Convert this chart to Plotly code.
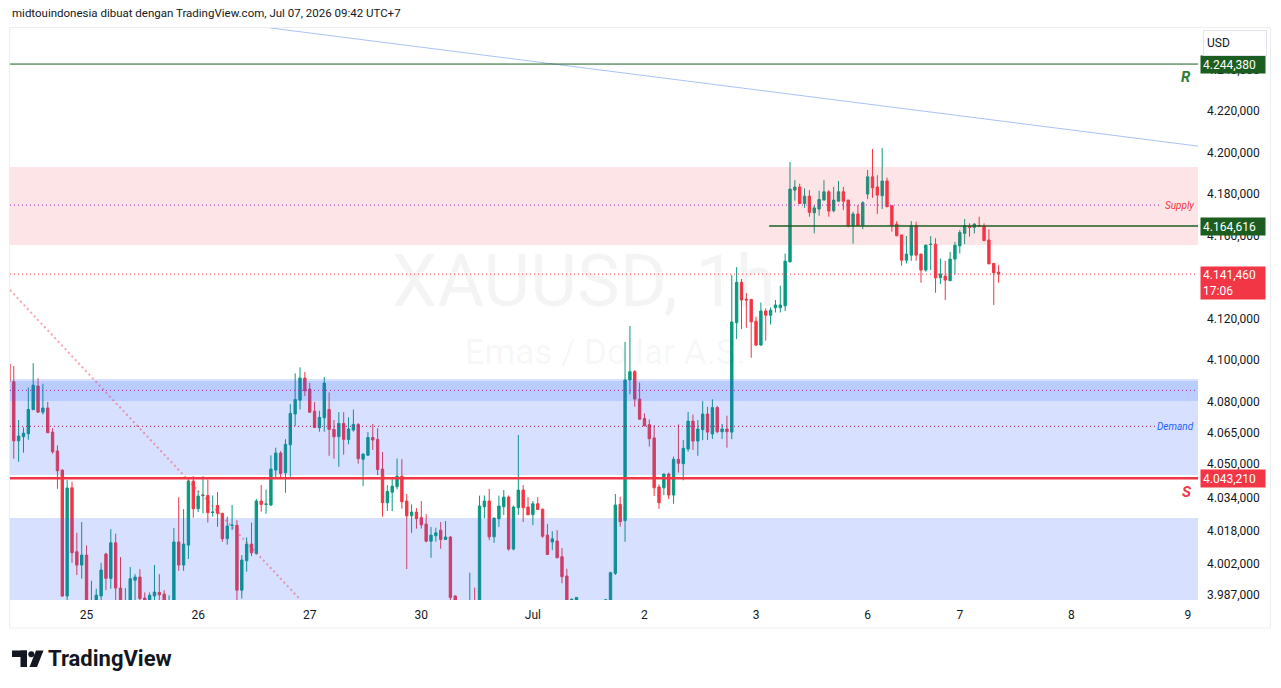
import plotly.graph_objects as go

# ---------------- data (XAUUSD 1h) ----------------
bar_index = list(range(-1, 204))

opens = [4098.2,
 4089.7, 4061.2, 4063.2, 4064.6, 4076.2, 4087.6, 4075.0, 4077.0, 4065.4, 4056.3,
 4047.1, 3986.5, 4038.6, 4007.8, 4001.4, 4006.2, 3978.0, 3980.0, 3986.5, 4006.7,
 3995.0, 4012.1, 3990.3, 3978.0, 3982.0, 3994.1, 3995.6, 3985.5, 3983.5, 3986.5,
 3988.2, 3987.4, 3981.0, 3983.5, 4012.5, 4001.4, 4011.0, 4041.8, 4028.5, 4034.8,
 4034.9, 4026.7, 4030.1, 4026.3, 4014.1, 4020.4, 4020.5, 3989.3, 4003.5, 4011.5,
 4007.0, 4032.2, 4030.6, 4030.3, 4047.1, 4055.3, 4045.8, 4059.3, 4074.1, 4080.8,
 4091.4, 4086.1, 4075.5, 4067.5, 4072.3, 4076.3, 4066.7, 4063.2, 4069.6, 4061.9,
 4066.4, 4069.1, 4052.3, 4054.3, 4062.8, 4061.9, 4047.6, 4031.4, 4036.5, 4039.1,
 4044.2, 4032.2, 4025.1, 4026.9, 4024.2, 4021.1, 4012.9, 4015.5, 4018.2, 4013.7,
 4014.9, 3986.5, 3980.0, 3974.0, 3976.0, 3980.0, 3975.0, 4029.5, 4032.2, 4015.0,
 4023.7, 4029.5, 4034.1, 4009.1, 4029.0, 4037.5, 4029.3, 4025.6, 4030.9, 4028.3,
 4015.8, 4012.5, 4013.0, 4005.4, 3996.1, 3981.0, 3981.0, 3984.0, 3978.0, 3974.0,
 3977.0, 3979.0, 3981.0, 3984.5, 3997.4, 4030.6, 4022.8, 4090.5, 4094.5, 4081.3,
 4071.9, 4069.0, 4062.6, 4039.0, 4038.6, 4045.2, 4035.1, 4052.3, 4050.2, 4057.3,
 4070.7, 4061.1, 4066.6, 4074.1, 4064.5, 4077.2, 4065.6, 4066.9, 4065.4, 4118.1,
 4137.5, 4129.3, 4129.3, 4118.8, 4107.3, 4123.7, 4121.7, 4125.3, 4125.3, 4126.2,
 4147.4, 4181.9, 4183.4, 4175.5, 4179.0, 4171.0, 4172.8, 4177.1, 4181.1, 4172.0,
 4176.6, 4181.1, 4177.1, 4164.6, 4170.4, 4164.9, 4180.0, 4188.3, 4183.4, 4179.2,
 4186.3, 4174.4, 4165.6, 4160.3, 4148.2, 4150.6, 4164.9, 4151.1, 4143.4, 4155.7,
 4155.9, 4139.7, 4140.5, 4138.3, 4148.7, 4155.1, 4161.1, 4164.6, 4164.0, 4164.8,
 4164.6, 4157.9, 4146.6, 4142.4]

highs = [4099.5,
 4097.2, 4071.2, 4067.7, 4086.9, 4098.6, 4091.3, 4088.7, 4079.9, 4067.3, 4059.0,
 4047.4, 4042.3, 4041.5, 4016.9, 4022.1, 4010.9, 3993.8, 3990.0, 4002.5, 4007.3,
 4018.7, 4016.5, 4005.2, 3990.3, 4000.4, 3997.0, 3999.4, 3988.2, 3988.2, 4001.4,
 3997.0, 3989.3, 3986.8, 4019.2, 4034.1, 4028.3, 4042.6, 4044.2, 4037.2, 4044.2,
 4042.6, 4034.9, 4036.5, 4026.5, 4024.7, 4030.3, 4023.0, 4006.2, 4014.7, 4021.8,
 4033.2, 4039.9, 4037.8, 4054.2, 4057.9, 4056.3, 4062.0, 4078.9, 4093.7, 4096.6,
 4094.3, 4089.0, 4079.9, 4075.7, 4091.9, 4084.5, 4071.2, 4075.0, 4075.0, 4072.5,
 4076.3, 4069.7, 4055.2, 4065.4, 4069.3, 4067.3, 4055.8, 4039.9, 4042.8, 4052.7,
 4052.4, 4035.6, 4030.6, 4028.8, 4032.2, 4025.9, 4019.7, 4019.4, 4022.1, 4022.6,
 4015.3, 3986.8, 3983.0, 3980.0, 3997.7, 3990.5, 4034.8, 4034.9, 4038.0, 4024.2,
 4034.8, 4037.5, 4034.9, 4030.0, 4064.0, 4039.9, 4034.1, 4032.2, 4034.1, 4028.6,
 4021.1, 4017.7, 4018.2, 4009.6, 3999.6, 3985.4, 3986.0, 3984.3, 3982.0, 3980.0,
 3982.0, 3984.0, 3985.0, 3998.2, 4035.6, 4034.3, 4108.8, 4116.5, 4095.3, 4089.2,
 4074.4, 4071.5, 4068.7, 4040.2, 4045.5, 4045.9, 4053.6, 4069.1, 4061.6, 4075.1,
 4073.9, 4071.2, 4080.3, 4077.6, 4081.2, 4078.0, 4069.3, 4073.3, 4141.0, 4144.8,
 4139.1, 4132.3, 4129.5, 4120.9, 4127.8, 4125.0, 4125.4, 4129.0, 4135.9, 4151.4,
 4195.4, 4186.7, 4185.0, 4182.7, 4181.9, 4174.7, 4181.6, 4186.7, 4181.9, 4183.5,
 4186.3, 4183.5, 4177.3, 4171.5, 4174.7, 4176.6, 4191.6, 4201.7, 4189.1, 4202.1,
 4187.9, 4174.6, 4167.0, 4160.5, 4159.8, 4167.0, 4166.7, 4151.3, 4155.8, 4159.8,
 4158.7, 4149.0, 4147.9, 4152.2, 4157.0, 4162.7, 4168.0, 4165.9, 4165.8, 4169.1,
 4165.9, 4163.0, 4146.8, 4145.8]

lows = [4088.5,
 4052.6, 4051.1, 4055.5, 4061.7, 4076.0, 4074.7, 4073.9, 4065.0, 4055.0, 4038.1,
 3986.0, 3983.0, 4002.5, 3996.6, 3994.8, 3982.0, 3975.0, 3976.0, 3982.0, 3989.3,
 3990.0, 3982.0, 3978.0, 3975.0, 3978.0, 3982.0, 3983.0, 3982.0, 3982.0, 3983.0,
 3983.0, 3981.0, 3979.0, 3981.0, 3998.6, 3998.6, 4004.3, 4024.2, 4026.9, 4026.3,
 4021.9, 4024.7, 4019.8, 4012.6, 4011.2, 4018.2, 3983.0, 3985.3, 3998.2, 4005.7,
 4006.4, 4027.1, 4026.1, 4029.8, 4043.4, 4043.4, 4036.2, 4043.9, 4068.3, 4076.3,
 4082.8, 4074.6, 4067.5, 4065.6, 4065.6, 4054.0, 4052.6, 4048.7, 4054.5, 4059.5,
 4065.6, 4050.2, 4039.4, 4053.9, 4056.8, 4044.6, 4024.7, 4027.4, 4027.4, 4037.8,
 4028.5, 3999.5, 4016.9, 4018.9, 4019.0, 4012.3, 4004.9, 4012.6, 4009.2, 4013.7,
 3983.0, 3978.0, 3970.0, 3968.0, 3972.0, 3970.0, 3972.0, 4023.9, 4013.4, 4012.1,
 4019.8, 4025.5, 4008.3, 4008.5, 4025.5, 4022.1, 4025.4, 4020.6, 4028.0, 4014.5,
 4006.2, 4008.6, 4004.7, 3992.6, 3979.0, 3978.0, 3978.0, 3974.0, 3970.0, 3968.0,
 3972.0, 3974.0, 3976.0, 3980.0, 3996.6, 4019.9, 4012.6, 4083.7, 4077.6, 4071.5,
 4068.3, 4058.4, 4034.6, 4028.5, 4035.1, 4033.2, 4030.9, 4045.9, 4042.2, 4056.0,
 4056.8, 4054.0, 4061.5, 4061.6, 4062.1, 4064.8, 4062.1, 4057.9, 4062.0, 4110.2,
 4115.0, 4115.6, 4101.2, 4106.8, 4107.0, 4109.4, 4117.2, 4123.0, 4123.0, 4123.7,
 4147.0, 4176.8, 4175.3, 4173.4, 4169.1, 4161.1, 4169.6, 4177.0, 4169.1, 4171.2,
 4176.5, 4172.3, 4164.0, 4156.1, 4164.8, 4163.1, 4177.6, 4178.2, 4170.4, 4172.8,
 4173.8, 4161.9, 4159.8, 4145.5, 4146.6, 4147.9, 4147.9, 4137.3, 4142.6, 4143.4,
 4132.5, 4136.7, 4129.0, 4138.1, 4141.3, 4151.4, 4155.9, 4159.5, 4161.1, 4164.4,
 4157.5, 4146.3, 4126.6, 4137.3]

closes = [4089.7,
 4061.2, 4063.5, 4064.9, 4076.3, 4088.0, 4075.0, 4077.0, 4065.1, 4055.9, 4046.8,
 3986.5, 4038.5, 4007.3, 4001.4, 4006.2, 3984.0, 3983.0, 3986.9, 3999.0, 3995.0,
 4012.1, 3990.3, 3982.0, 3982.0, 3994.8, 3995.6, 3985.3, 3984.0, 3986.8, 3988.4,
 3987.1, 3983.5, 3983.5, 4012.5, 4001.4, 4011.5, 4041.8, 4028.5, 4034.6, 4035.0,
 4026.6, 4026.9, 4026.3, 4014.1, 4020.2, 4020.6, 3989.3, 4003.8, 4011.5, 4007.3,
 4032.2, 4030.6, 4030.8, 4047.6, 4055.3, 4045.5, 4059.5, 4074.4, 4081.1, 4091.4,
 4085.3, 4075.0, 4067.6, 4072.5, 4089.0, 4066.7, 4063.2, 4069.6, 4061.9, 4066.9,
 4069.1, 4052.6, 4054.8, 4062.8, 4061.6, 4047.4, 4031.4, 4036.8, 4039.4, 4044.2,
 4031.9, 4025.1, 4026.9, 4023.7, 4020.8, 4012.9, 4015.8, 4016.9, 4013.7, 4014.9,
 3985.8, 3980.0, 3974.0, 3976.0, 3980.0, 3975.0, 4029.8, 4032.2, 4015.0, 4024.0,
 4029.8, 4034.1, 4009.1, 4029.3, 4037.5, 4029.0, 4025.6, 4030.9, 4028.2, 4015.3,
 4006.5, 4014.0, 4004.9, 3995.8, 3982.0, 3984.9, 3985.8, 3978.0, 3974.0, 3977.0,
 3979.0, 3981.0, 3984.7, 3997.7, 4030.3, 4022.3, 4090.5, 4094.5, 4081.3, 4071.6,
 4068.4, 4062.2, 4038.6, 4031.4, 4045.2, 4035.1, 4052.3, 4050.4, 4057.6, 4070.7,
 4061.1, 4066.9, 4074.1, 4065.4, 4077.2, 4065.6, 4066.9, 4065.6, 4118.4, 4137.5,
 4129.0, 4129.0, 4118.5, 4107.3, 4123.7, 4121.7, 4124.1, 4126.6, 4126.6, 4147.7,
 4182.4, 4183.4, 4175.5, 4179.0, 4171.2, 4173.3, 4177.4, 4181.1, 4171.8, 4177.1,
 4181.1, 4176.6, 4164.6, 4170.4, 4164.9, 4175.8, 4188.3, 4183.0, 4179.5, 4186.3,
 4173.9, 4164.9, 4159.9, 4148.2, 4151.1, 4164.9, 4150.6, 4143.4, 4155.4, 4155.8,
 4139.7, 4141.5, 4138.6, 4148.7, 4155.4, 4161.5, 4164.9, 4164.0, 4165.6, 4164.6,
 4157.6, 4146.4, 4142.1, 4141.46]

# time axis labels (bar index where each day starts)
day_ticks = [15, 38, 61, 84, 107, 130, 153, 176, 195, 218, 242]
day_labels = ["25", "26", "27", "30", "Jul", "2", "3", "6", "7", "8", "9"]

# price axis labels
price_ticks = [4240, 4220, 4200, 4180, 4160, 4120, 4100, 4080, 4065, 4050, 4034, 4018, 4002, 3987]
price_labels = ["4.240,000", "4.220,000", "4.200,000", "4.180,000", "4.160,000", "4.120,000",
                "4.100,000", "4.080,000", "4.065,000", "4.050,000", "4.034,000", "4.018,000",
                "4.002,000", "3.987,000"]

# drawn levels
resistance = 4242.6            # where the R line sits on the price scale
resistance_text = "4.244,380"
support = 4043.21
last_price = 4141.46
green_level = 4164.616
green_level_start = 155.7
supply_zone = (4155.5, 4193.0)
supply_mid = 4174.7
demand_zone = (4044.75, 4090.97)
demand_inner = (4080.4, 4090.0)
demand_mid_upper = 4085.5
demand_mid_lower = 4068.2
lower_zone = (3960.0, 4024.0)
trend_blue = ((52.8, 4260.0), (244.1, 4203.1))
trend_red = ((-0.78, 4133.8), (60.0, 3982.4))

X_RANGE = [-0.78, 244.1]
Y_RANGE = [3984.57, 4259.96]

# ---------------- figure ----------------
W, H = 1281, 688
ML, MR, MT, MB = 10, 83, 28, 88
PW, PH = W - ML - MR, H - MT - MB


def pxx(px):
    return (px - ML) / PW


def pxy(py):
    return (H - MB - py) / PH


UP, DOWN = "#089981", "#f23645"
TXT = "#131722"
FONT = "Roboto"

fig = go.Figure()

# watermark (below candles)
fig.add_trace(go.Scatter(x=[117.5], y=[4134.8], mode="text", text=["XAUUSD, 1h"],
                         textfont=dict(family=FONT, size=72, color="rgba(0,0,0,0.045)"),
                         hoverinfo="skip", showlegend=False))
fig.add_trace(go.Scatter(x=[121.9], y=[4102.5], mode="text", text=["Emas / Dollar A.S."],
                         textfont=dict(family=FONT, size=35, color="rgba(0,0,0,0.045)"),
                         hoverinfo="skip", showlegend=False))

fig.add_trace(go.Candlestick(
    x=bar_index, open=opens, high=highs, low=lows, close=closes,
    increasing=dict(line=dict(color=UP, width=1), fillcolor=UP),
    decreasing=dict(line=dict(color=DOWN, width=1), fillcolor=DOWN),
    whiskerwidth=0, hoverinfo="skip", showlegend=False))

shapes = []
# zones (drawn above candles, translucent)
shapes.append(dict(type="rect", xref="paper", yref="y", x0=0, x1=1, y0=supply_zone[0], y1=supply_zone[1],
                   fillcolor="rgba(242,54,69,0.13)", line=dict(width=0), layer="above"))
shapes.append(dict(type="rect", xref="paper", yref="y", x0=0, x1=1, y0=demand_zone[0], y1=demand_zone[1],
                   fillcolor="rgba(41,98,255,0.19)", line=dict(width=0), layer="above"))
shapes.append(dict(type="rect", xref="paper", yref="y", x0=0, x1=1, y0=demand_inner[0], y1=demand_inner[1],
                   fillcolor="rgba(41,98,255,0.16)", line=dict(width=0), layer="above"))
shapes.append(dict(type="rect", xref="paper", yref="y", x0=0, x1=1, y0=lower_zone[0], y1=lower_zone[1],
                   fillcolor="rgba(41,98,255,0.19)", line=dict(width=0), layer="above"))

# dotted mid lines
shapes.append(dict(type="line", xref="paper", yref="y", x0=0, x1=pxx(1160), y0=supply_mid, y1=supply_mid,
                   line=dict(color="#9c27b0", width=1, dash="1px,3px"), layer="above"))
shapes.append(dict(type="line", xref="paper", yref="y", x0=0, x1=1, y0=demand_mid_upper, y1=demand_mid_upper,
                   line=dict(color="#9c27b0", width=1, dash="1px,3px"), layer="above"))
shapes.append(dict(type="line", xref="paper", yref="y", x0=0, x1=pxx(1156), y0=demand_mid_lower,
                   y1=demand_mid_lower, line=dict(color="#a0144c", width=1, dash="1px,3px"), layer="above"))
shapes.append(dict(type="line", xref="paper", yref="y", x0=0, x1=1, y0=last_price, y1=last_price,
                   line=dict(color=DOWN, width=1, dash="1px,3px"), layer="above"))

# trend lines
shapes.append(dict(type="line", xref="x", yref="y", x0=trend_blue[0][0], y0=trend_blue[0][1],
                   x1=trend_blue[1][0], y1=trend_blue[1][1], line=dict(color="#aac2f7", width=1), layer="above"))
shapes.append(dict(type="line", xref="x", yref="y", x0=trend_red[0][0], y0=trend_red[0][1],
                   x1=trend_red[1][0], y1=trend_red[1][1],
                   line=dict(color="rgba(242,54,69,0.45)", width=2, dash="2px,3px"), layer="above"))

# horizontal levels
shapes.append(dict(type="line", xref="paper", yref="y", x0=0, x1=1, y0=resistance, y1=resistance,
                   line=dict(color="#1b5e20", width=1), layer="above"))
shapes.append(dict(type="line", xref="x", yref="y", x0=green_level_start, x1=X_RANGE[1], y0=green_level,
                   y1=green_level, line=dict(color="#1b5e20", width=1.5), layer="above"))
shapes.append(dict(type="line", xref="paper", yref="y", x0=0, x1=1, y0=support, y1=support,
                   line=dict(color=DOWN, width=2.5), layer="above"))

# chart frame
shapes.append(dict(type="rect", xref="paper", yref="paper", x0=pxx(9.5), x1=pxx(1270.5), y0=pxy(628),
                   y1=pxy(27.5), line=dict(color="#eceef2", width=1), fillcolor="rgba(0,0,0,0)", layer="below"))

# TradingView logo
shapes.append(dict(type="rect", xref="paper", yref="paper", x0=pxx(12), x1=pxx(27), y0=pxy(657), y1=pxy(650.5),
                   fillcolor=TXT, line=dict(width=0)))
shapes.append(dict(type="rect", xref="paper", yref="paper", x0=pxx(20.5), x1=pxx(27), y0=pxy(667), y1=pxy(650.5),
                   fillcolor=TXT, line=dict(width=0)))
shapes.append(dict(type="circle", xref="paper", yref="paper", x0=pxx(28.3), x1=pxx(34.3), y0=pxy(657.3),
                   y1=pxy(651.3), fillcolor=TXT, line=dict(width=0)))
lp = [(36, 650.5), (43.5, 650.5), (37, 667), (29.5, 667)]
path = "M " + " L ".join(f"{pxx(a)},{pxy(b)}" for a, b in lp) + " Z"
shapes.append(dict(type="path", xref="paper", yref="paper", path=path, fillcolor=TXT, line=dict(width=0)))

annotations = []
annotations.append(dict(xref="paper", yref="paper", x=pxx(10), y=pxy(13), xanchor="left", yanchor="middle",
                        text="midtouindonesia dibuat dengan TradingView.com, Jul 07, 2026 09:42 UTC+7",
                        showarrow=False, font=dict(family=FONT, size=11.5, color=TXT)))
annotations.append(dict(xref="paper", yref="paper", x=pxx(46), y=pxy(658), xanchor="left", yanchor="middle",
                        text="<b>TradingView</b>", showarrow=False, font=dict(family=FONT, size=22, color=TXT)))

# zone / level labels
annotations.append(dict(xref="paper", yref="y", x=pxx(1196), y=supply_mid, xanchor="right", yanchor="middle",
                        text="<i>Supply</i>", showarrow=False, font=dict(family=FONT, size=10, color=DOWN)))
annotations.append(dict(xref="paper", yref="y", x=pxx(1196), y=demand_mid_lower, xanchor="right",
                        yanchor="middle", text="<i>Demand</i>", showarrow=False,
                        font=dict(family=FONT, size=10, color="#2962ff")))
annotations.append(dict(xref="paper", yref="y", x=pxx(1186), y=resistance, yshift=-13, xanchor="center",
                        yanchor="middle", text="<b><i>R</i></b>", showarrow=False,
                        font=dict(family=FONT, size=15, color="#2e7d32")))
annotations.append(dict(xref="paper", yref="y", x=pxx(1187), y=support, yshift=-14, xanchor="center",
                        yanchor="middle", text="<b><i>S</i></b>", showarrow=False,
                        font=dict(family=FONT, size=15, color=DOWN)))

# price-axis boxes
price_boxes = [(resistance, resistance_text, "#1b5e20"), (green_level, "4.164,616", "#1b5e20"),
               (support, "4.043,210", DOWN)]
for val, txt, col in price_boxes:
    annotations.append(dict(xref="paper", yref="y", x=pxx(1200), y=val, xanchor="left", yanchor="middle",
                            text=txt, showarrow=False, bgcolor=col, borderpad=2, width=60, height=13,
                            align="left", font=dict(family=FONT, size=12, color="white")))
annotations.append(dict(xref="paper", yref="y", x=pxx(1200), y=last_price, yshift=8, xanchor="left",
                        yanchor="top", text="4.141,460<br>17:06", showarrow=False, bgcolor=DOWN, borderpad=2,
                        width=60, height=28, align="left", font=dict(family=FONT, size=12, color="white")))
annotations.append(dict(xref="paper", yref="paper", x=pxx(1203), y=pxy(43.5), xanchor="left", yanchor="middle",
                        text="USD", showarrow=False, bgcolor="white", bordercolor="#e0e3eb", borderwidth=1,
                        borderpad=3, width=56, height=18, align="left",
                        font=dict(family=FONT, size=12, color=TXT)))

fig.update_layout(
    width=W, height=H, margin=dict(l=ML, r=MR, t=MT, b=MB),
    paper_bgcolor="white", plot_bgcolor="white", showlegend=False, hovermode=False,
    shapes=shapes, annotations=annotations,
    xaxis=dict(range=X_RANGE, tickmode="array", tickvals=day_ticks, ticktext=day_labels,
               showgrid=False, zeroline=False, showline=False, ticks="",
               tickfont=dict(family=FONT, size=12, color=TXT), rangeslider=dict(visible=False),
               fixedrange=True, ticklabelstandoff=6),
    yaxis=dict(range=Y_RANGE, side="right", tickmode="array", tickvals=price_ticks, ticktext=price_labels,
               showgrid=False, zeroline=False, showline=False, ticks="",
               tickfont=dict(family=FONT, size=12, color=TXT), fixedrange=True, ticklabelstandoff=8),
)

fig.write_html("out.html")
